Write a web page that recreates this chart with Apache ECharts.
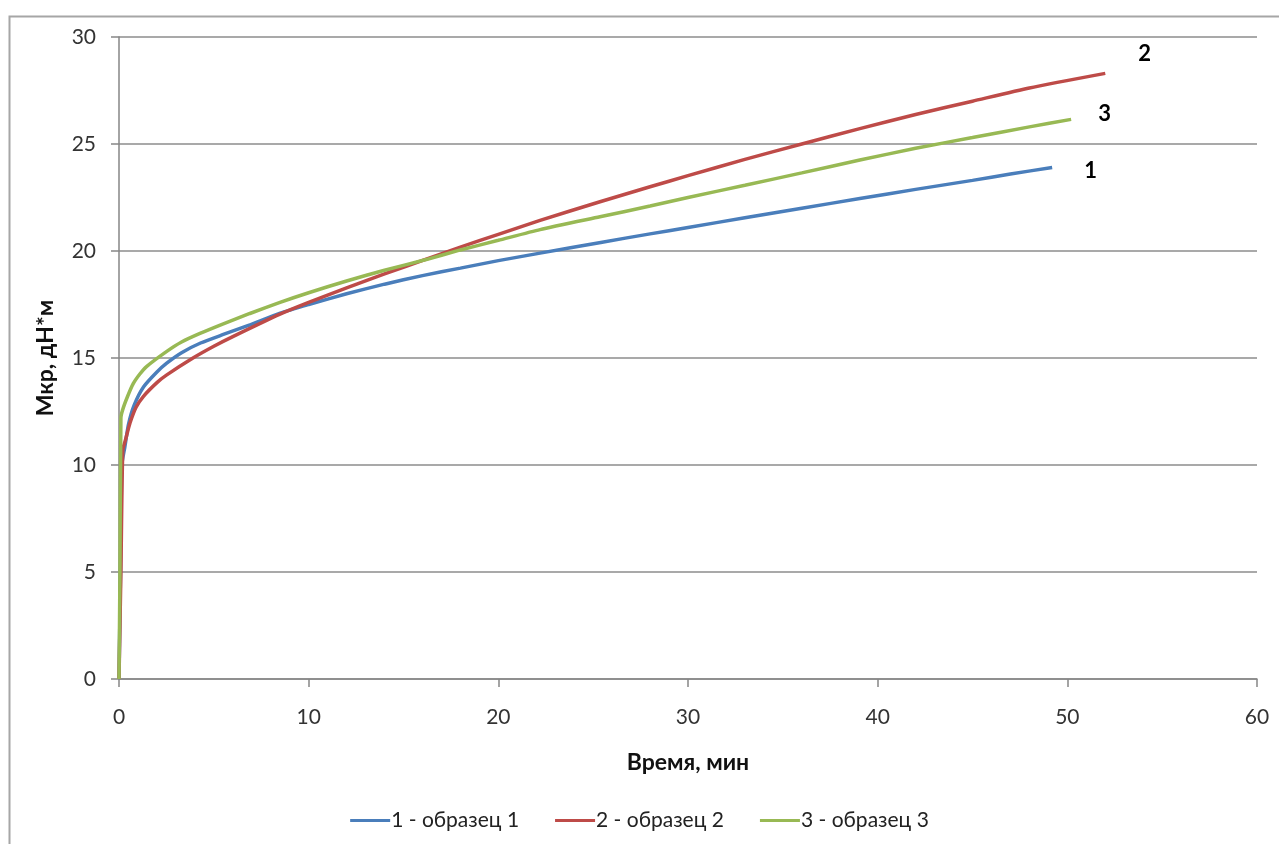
<!DOCTYPE html>
<html>
<head>
<meta charset="utf-8">
<script src="https://cdn.jsdelivr.net/npm/echarts@6/dist/echarts.min.js"></script>
<style>html,body{margin:0;padding:0;background:#fff}#c{width:1279px;height:844px}</style>
</head>
<body>
<div id="c"></div>
<script>
const seriesNames = ['1 - образец 1', '2 - образец 2', '3 - образец 3'];
const endLabels = ['1', '2', '3'];
const xTitle = 'Время, мин';
const yTitle = 'Мкр, дН*м';

const s1x = [0, 0.08, 0.15, 0.3, 0.5, 0.8, 1.3, 2.0, 2.5, 3.3, 4.3, 5.5, 6.9, 8.5, 10, 12, 14, 16, 18, 20, 22.2, 25.4, 28, 30, 33, 36, 39.06, 42, 45, 47, 49.2];
const s1y = [0, 5, 10.0, 10.8, 11.9, 12.8, 13.66, 14.35, 14.75, 15.25, 15.7, 16.1, 16.55, 17.1, 17.5, 18.0, 18.45, 18.85, 19.2, 19.55, 19.9, 20.4, 20.8, 21.1, 21.55, 22.0, 22.45, 22.88, 23.3, 23.6, 23.9];

const s2x = [0, 0.1, 0.2, 0.35, 0.58, 0.9, 1.28, 2.0, 2.5, 3.9, 5.0, 6.0, 8.49, 10, 12, 14, 16.2, 18, 20, 22.2, 25.36, 28, 30, 33, 36, 39.06, 42, 45, 48, 52];
const s2y = [0, 5, 10.7, 11.2, 11.96, 12.7, 13.2, 13.85, 14.2, 15.0, 15.55, 16.0, 17.05, 17.6, 18.28, 18.93, 19.62, 20.18, 20.78, 21.43, 22.3, 23.0, 23.52, 24.28, 25.0, 25.72, 26.38, 27.0, 27.62, 28.3];

const s3x = [0, 0.05, 0.1, 0.2, 0.45, 0.75, 1.1, 1.45, 2.5, 3.3, 4.27, 5.5, 6.9, 8.49, 10, 12, 14, 16.2, 18, 20, 22.2, 25.36, 28, 30, 33, 36, 39.06, 42, 45, 48, 50.2];
const s3y = [0, 5, 12.2, 12.6, 13.2, 13.8, 14.25, 14.6, 15.3, 15.75, 16.15, 16.6, 17.08, 17.6, 18.05, 18.6, 19.1, 19.6, 20.05, 20.5, 21.0, 21.6, 22.1, 22.5, 23.07, 23.65, 24.25, 24.8, 25.3, 25.8, 26.15];

const colors = ['#4a7ebb', '#be4b48', '#98b954'];
const FONT = 'Lato';

function zip(xs, ys) { return xs.map((x, i) => [x, ys[i]]); }
const datas = [zip(s1x, s1y), zip(s2x, s2y), zip(s3x, s3y)];
const labelOffsets = [[24, 3], [25, -19], [19, -5]];

const chart = echarts.init(document.getElementById('c'), null, {renderer: 'canvas'});
chart.setOption({
  animation: false,
  backgroundColor: '#fff',
  color: colors,
  graphic: [{
    type: 'rect', left: 7, top: 14, z: -1,
    shape: {x: 0, y: 0, width: 1300, height: 900},
    style: {fill: 'none', stroke: '#a6a6a6', lineWidth: 2}
  }],
  grid: {left: 119, right: 22, top: 37, bottom: 165, containLabel: false},
  legend: {
    top: 805, left: 'center',
    itemWidth: 40, itemHeight: 3, itemGap: 36,
    icon: 'rect',
    textStyle: {fontFamily: FONT, fontSize: 21, color: '#222', padding: [0, 0, 0, -4]},
    data: seriesNames
  },
  xAxis: {
    type: 'value', min: 0, max: 60, interval: 10,
    name: xTitle, nameLocation: 'middle', nameGap: 72,
    nameTextStyle: {fontFamily: FONT, fontSize: 23, fontWeight: 'bold', color: '#111'},
    axisLine: {lineStyle: {color: '#868686', width: 1.5}},
    axisTick: {show: true, length: 8, lineStyle: {color: '#868686', width: 1.5}},
    axisLabel: {fontFamily: FONT, fontSize: 21, color: '#333', margin: 28},
    splitLine: {show: false}
  },
  yAxis: {
    type: 'value', min: 0, max: 30, interval: 5,
    name: yTitle, nameLocation: 'middle', nameGap: 62, nameRotate: 90,
    nameTextStyle: {fontFamily: FONT, fontSize: 23, fontWeight: 'bold', color: '#111'},
    axisLine: {show: true, lineStyle: {color: '#868686', width: 1.5}},
    axisTick: {show: true, length: 8, lineStyle: {color: '#868686', width: 1.5}},
    axisLabel: {fontFamily: FONT, fontSize: 21, color: '#333', margin: 23},
    splitLine: {show: true, lineStyle: {color: '#8c8c8c', width: 1.5}}
  },
  series: datas.map((d, i) => ({
    name: seriesNames[i],
    type: 'line',
    data: d,
    showSymbol: false,
    smooth: 0.2,
    lineStyle: {width: 3.5, color: colors[i]},
    endLabel: {
      show: true,
      formatter: () => endLabels[i],
      offset: labelOffsets[i],
      fontFamily: FONT, fontSize: 22, fontWeight: 'bold', color: '#000'
    },
    z: i === 1 ? 3 : (i === 2 ? 4 : 2)
  }))
});
</script>
</body>
</html>
